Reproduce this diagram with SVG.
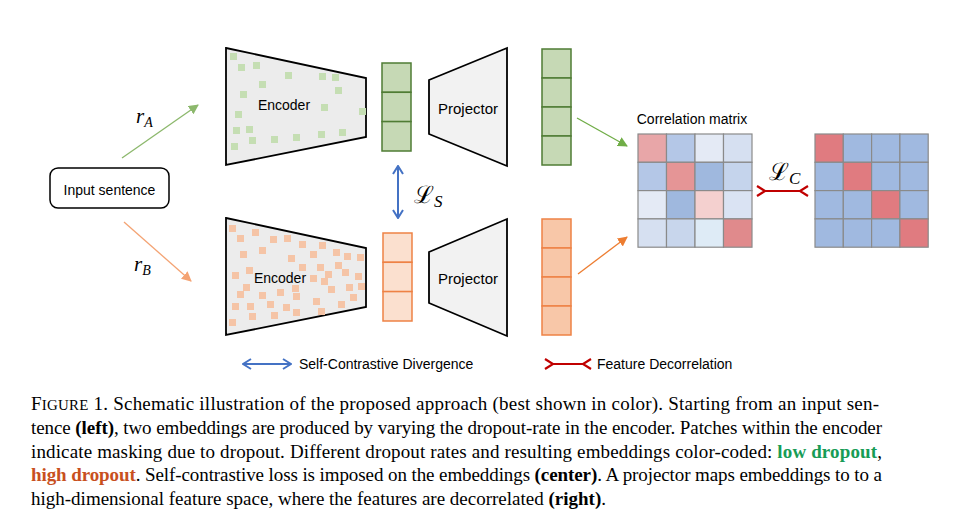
<svg xmlns="http://www.w3.org/2000/svg" width="959" height="522" viewBox="0 0 959 522">
<defs>
<style>
.lbl{font-family:"Liberation Sans",Arial,sans-serif;font-size:14px;fill:#000}
.enc{fill:#ececec;stroke:#000;stroke-width:1.8}
.proj{fill:#f2f2f2;stroke:#000;stroke-width:1.8}
.gs{fill:#c5deb3}
.os{fill:#f5c4a6}
.ge{fill:#c6d9b5;stroke:#4f7c34;stroke-width:1.5}
.oes{fill:#fbe0cf;stroke:#ee8245;stroke-width:1.5}
.oeb{fill:#f8c7a8;stroke:#ee8245;stroke-width:1.5}
.grid{stroke:#8a8a8a;stroke-width:1.2}
.math{font-family:"Liberation Serif","DejaVu Serif",serif;font-style:italic;fill:#000}
.cap{font-family:"Liberation Serif","Times New Roman",serif;font-size:19px;fill:#000}
.blue{stroke:#4472c4;stroke-width:2;fill:none}
.red{stroke:#c00000;stroke-width:2.2;fill:none}
</style>
<marker id="ahG" viewBox="0 0 10 10" refX="9" refY="5" markerWidth="10" markerHeight="10" markerUnits="userSpaceOnUse" orient="auto"><path d="M0,0 L10,5 L0,10 z" fill="#8cb86c"/></marker>
<marker id="ahG2" viewBox="0 0 10 10" refX="9" refY="5" markerWidth="10" markerHeight="10" markerUnits="userSpaceOnUse" orient="auto"><path d="M0,0 L10,5 L0,10 z" fill="#70ad47"/></marker>
<marker id="ahO" viewBox="0 0 10 10" refX="9" refY="5" markerWidth="10" markerHeight="10" markerUnits="userSpaceOnUse" orient="auto"><path d="M0,0 L10,5 L0,10 z" fill="#f4a373"/></marker>
<marker id="ahO2" viewBox="0 0 10 10" refX="9" refY="5" markerWidth="10" markerHeight="10" markerUnits="userSpaceOnUse" orient="auto"><path d="M0,0 L10,5 L0,10 z" fill="#ed7d31"/></marker>
<marker id="chev" viewBox="0 0 10 12" refX="9" refY="6" markerWidth="10" markerHeight="12" markerUnits="userSpaceOnUse" orient="auto-start-reverse"><path d="M1,1 L9,6 L1,11" fill="none" stroke="#4472c4" stroke-width="2"/></marker>
</defs>
<rect width="959" height="522" fill="#fff"/>

<g id="input">
<rect x="50" y="168" width="119" height="40" rx="8" fill="#fff" stroke="#000" stroke-width="1.5"/>
<text class="lbl" x="109.5" y="195" text-anchor="middle">Input sentence</text>
</g>

<g id="encoderA">
<polygon class="enc" points="226,48 366,78 366,137 226,165"/>
<g class="gs">
<rect x="230" y="53" width="7" height="7"/><rect x="238" y="64" width="7" height="7"/><rect x="253" y="62" width="7" height="7"/><rect x="285" y="72" width="7" height="7"/><rect x="259" y="81" width="7" height="7"/><rect x="319" y="73" width="7" height="7"/><rect x="332" y="74" width="7" height="7"/><rect x="240" y="91" width="7" height="7"/><rect x="335" y="87" width="7" height="7"/><rect x="235" y="111" width="7" height="7"/><rect x="321" y="104" width="7" height="7"/><rect x="359" y="108" width="7" height="7"/><rect x="233" y="127" width="7" height="7"/><rect x="246" y="126" width="7" height="7"/><rect x="249" y="137" width="7" height="7"/><rect x="271" y="136" width="7" height="7"/><rect x="293" y="134" width="7" height="7"/><rect x="318" y="131" width="7" height="7"/><rect x="339" y="129" width="7" height="7"/><rect x="231" y="143" width="7" height="7"/>
</g>
<text class="lbl" x="284" y="110" text-anchor="middle">Encoder</text>
</g>

<g id="encoderB">
<polygon class="enc" points="226,218 366,248 366,307 226,335"/>
<g class="os">
<rect x="229" y="225" width="7" height="7"/><rect x="237" y="235" width="7" height="7"/><rect x="252" y="229" width="7" height="7"/><rect x="270" y="236" width="7" height="7"/><rect x="284" y="235" width="7" height="7"/><rect x="299" y="241" width="7" height="7"/><rect x="319" y="242" width="7" height="7"/><rect x="333" y="249" width="7" height="7"/><rect x="344" y="253" width="7" height="7"/><rect x="357" y="254" width="7" height="7"/><rect x="240" y="251" width="7" height="7"/><rect x="259" y="247" width="7" height="7"/><rect x="288" y="255" width="7" height="7"/><rect x="310" y="251" width="7" height="7"/><rect x="232" y="272" width="7" height="7"/><rect x="246" y="267" width="7" height="7"/><rect x="299" y="264" width="7" height="7"/><rect x="317" y="264" width="7" height="7"/><rect x="325" y="271" width="7" height="7"/><rect x="335" y="262" width="7" height="7"/><rect x="342" y="269" width="7" height="7"/><rect x="355" y="273" width="7" height="7"/><rect x="310" y="275" width="7" height="7"/><rect x="321" y="278" width="7" height="7"/><rect x="243" y="284" width="7" height="7"/><rect x="237" y="291" width="7" height="7"/><rect x="259" y="292" width="7" height="7"/><rect x="277" y="289" width="7" height="7"/><rect x="292" y="285" width="7" height="7"/><rect x="293" y="293" width="7" height="7"/><rect x="328" y="286" width="7" height="7"/><rect x="346" y="284" width="7" height="7"/><rect x="358" y="283" width="7" height="7"/><rect x="350" y="294" width="7" height="7"/><rect x="232" y="303" width="7" height="7"/><rect x="247" y="303" width="7" height="7"/><rect x="267" y="301" width="7" height="7"/><rect x="283" y="304" width="7" height="7"/><rect x="313" y="298" width="7" height="7"/><rect x="338" y="301" width="7" height="7"/><rect x="249" y="313" width="7" height="7"/><rect x="271" y="312" width="7" height="7"/><rect x="293" y="309" width="7" height="7"/><rect x="318" y="308" width="7" height="7"/><rect x="229" y="319" width="7" height="7"/>
</g>
<text class="lbl" x="280" y="283" text-anchor="middle">Encoder</text>
</g>

<g id="embA">
<rect class="ge" x="382" y="63" width="29" height="29.3"/><rect class="ge" x="382" y="92.3" width="29" height="29.3"/><rect class="ge" x="382" y="121.6" width="29" height="29.4"/>
</g>
<g id="embB">
<rect class="oes" x="383" y="233" width="29" height="29.3"/><rect class="oes" x="383" y="262.3" width="29" height="29.3"/><rect class="oes" x="383" y="291.6" width="29" height="29.4"/>
</g>

<g id="projectorA">
<polygon class="proj" points="429,80 507,48 507,166 429,134"/>
<text class="lbl" x="468" y="114" text-anchor="middle" style="font-size:15px">Projector</text>
</g>
<g id="projectorB">
<polygon class="proj" points="429,252 507,219 507,336 429,303"/>
<text class="lbl" x="468" y="284" text-anchor="middle" style="font-size:15px">Projector</text>
</g>

<g id="featA">
<rect class="ge" x="542" y="49" width="29" height="29"/><rect class="ge" x="542" y="78" width="29" height="29"/><rect class="ge" x="542" y="107" width="29" height="29"/><rect class="ge" x="542" y="136" width="29" height="29"/>
</g>
<g id="featB">
<rect class="oeb" x="542" y="219" width="29" height="29"/><rect class="oeb" x="542" y="248" width="29" height="29"/><rect class="oeb" x="542" y="277" width="29" height="29"/><rect class="oeb" x="542" y="306" width="29" height="29"/>
</g>

<g id="corr">
<text class="lbl" x="692" y="124" text-anchor="middle">Correlation matrix</text>
<g class="grid">
<rect x="638" y="134" width="28.5" height="28.3" fill="#e8a6a8"/><rect x="666.5" y="134" width="28.5" height="28.3" fill="#b4c7e7"/><rect x="695" y="134" width="28.5" height="28.3" fill="#e4eaf5"/><rect x="723.5" y="134" width="28.5" height="28.3" fill="#d6e0f1"/>
<rect x="638" y="162.3" width="28.5" height="28.3" fill="#b4c7e7"/><rect x="666.5" y="162.3" width="28.5" height="28.3" fill="#e59596"/><rect x="695" y="162.3" width="28.5" height="28.3" fill="#9fb8de"/><rect x="723.5" y="162.3" width="28.5" height="28.3" fill="#c5d4ec"/>
<rect x="638" y="190.6" width="28.5" height="28.3" fill="#e4eaf5"/><rect x="666.5" y="190.6" width="28.5" height="28.3" fill="#9fb8de"/><rect x="695" y="190.6" width="28.5" height="28.3" fill="#f4d0cf"/><rect x="723.5" y="190.6" width="28.5" height="28.3" fill="#dae3f3"/>
<rect x="638" y="218.9" width="28.5" height="28.3" fill="#d6e0f1"/><rect x="666.5" y="218.9" width="28.5" height="28.3" fill="#c8d6ec"/><rect x="695" y="218.9" width="28.5" height="28.3" fill="#deebf6"/><rect x="723.5" y="218.9" width="28.5" height="28.3" fill="#e08a8c"/>
</g>
</g>

<g id="target">
<g class="grid">
<rect x="815" y="134" width="28.3" height="28.3" fill="#e07b80"/><rect x="843.3" y="134" width="28.3" height="28.3" fill="#a0b9e0"/><rect x="871.6" y="134" width="28.3" height="28.3" fill="#a0b9e0"/><rect x="899.9" y="134" width="28.3" height="28.3" fill="#a0b9e0"/>
<rect x="815" y="162.3" width="28.3" height="28.3" fill="#a0b9e0"/><rect x="843.3" y="162.3" width="28.3" height="28.3" fill="#e07b80"/><rect x="871.6" y="162.3" width="28.3" height="28.3" fill="#a0b9e0"/><rect x="899.9" y="162.3" width="28.3" height="28.3" fill="#a0b9e0"/>
<rect x="815" y="190.6" width="28.3" height="28.3" fill="#a0b9e0"/><rect x="843.3" y="190.6" width="28.3" height="28.3" fill="#a0b9e0"/><rect x="871.6" y="190.6" width="28.3" height="28.3" fill="#e07b80"/><rect x="899.9" y="190.6" width="28.3" height="28.3" fill="#a0b9e0"/>
<rect x="815" y="218.9" width="28.3" height="28.3" fill="#a0b9e0"/><rect x="843.3" y="218.9" width="28.3" height="28.3" fill="#a0b9e0"/><rect x="871.6" y="218.9" width="28.3" height="28.3" fill="#a0b9e0"/><rect x="899.9" y="218.9" width="28.3" height="28.3" fill="#e07b80"/>
</g>
</g>

<g id="connectors">
<line x1="122" y1="158" x2="198" y2="105" stroke="#8cb86c" stroke-width="1.3" marker-end="url(#ahG)"/>
<line x1="124" y1="222" x2="191" y2="281" stroke="#f4a373" stroke-width="1.3" marker-end="url(#ahO)"/>
<line x1="577" y1="118" x2="627" y2="146" stroke="#70ad47" stroke-width="1.3" marker-end="url(#ahG2)"/>
<line x1="578" y1="274" x2="627" y2="237" stroke="#ed7d31" stroke-width="1.3" marker-end="url(#ahO2)"/>
<line class="blue" x1="398" y1="166" x2="398" y2="218" marker-start="url(#chev)" marker-end="url(#chev)"/>
<path class="red" d="M757,186 L765,191 L757,196 M765,191 L800,191 M808,186 L800,191 L808,196"/>
</g>

<g id="math">
<text class="math" x="136" y="123" font-size="21">r<tspan font-size="14" dy="4">A</tspan></text>
<text class="math" x="134" y="271" font-size="21">r<tspan font-size="14" dy="4">B</tspan></text>
<text class="math" x="414" y="203" font-size="24" style="font-family:'DejaVu Serif',serif;font-style:normal">ℒ<tspan font-size="17" dy="4" style="font-family:'Liberation Serif',serif;font-style:italic">S</tspan></text>
<text class="math" x="769" y="180" font-size="24" style="font-family:'DejaVu Serif',serif;font-style:normal">ℒ<tspan font-size="17" dy="4" style="font-family:'Liberation Serif',serif;font-style:italic">C</tspan></text>
</g>

<g id="legend">
<line class="blue" x1="243" y1="364" x2="291" y2="364" marker-start="url(#chev)" marker-end="url(#chev)"/>
<text class="lbl" x="299" y="369">Self-Contrastive Divergence</text>
<path class="red" d="M545,359 L553,364 L545,369 M553,364 L583,364 M591,359 L583,364 L591,369"/>
<text class="lbl" x="597" y="369">Feature Decorrelation</text>
</g>

<g id="caption" class="cap" xml:space="preserve">
<text x="31" y="410" textLength="848" lengthAdjust="spacing">F<tspan font-size="14.9">IGURE</tspan> 1.  Schematic illustration of the proposed approach (best shown in color).  Starting from an input sen-</text>
<text x="31" y="434" textLength="851" lengthAdjust="spacing">tence <tspan font-weight="bold">(left)</tspan>, two embeddings are produced by varying the dropout-rate in the encoder. Patches within the encoder</text>
<text x="31" y="458" textLength="851" lengthAdjust="spacing">indicate masking due to dropout.  Different dropout rates and resulting embeddings color-coded: <tspan font-weight="bold" fill="#179c56">low dropout</tspan>,</text>
<text x="31" y="481" textLength="851" lengthAdjust="spacing"><tspan font-weight="bold" fill="#c8501e">high dropout</tspan>. Self-contrastive loss is imposed on the embeddings <tspan font-weight="bold">(center)</tspan>. A projector maps embeddings to to a</text>
<text x="31" y="505">high-dimensional feature space, where the features are decorrelated <tspan font-weight="bold">(right)</tspan>.</text>
</g>
</svg>
